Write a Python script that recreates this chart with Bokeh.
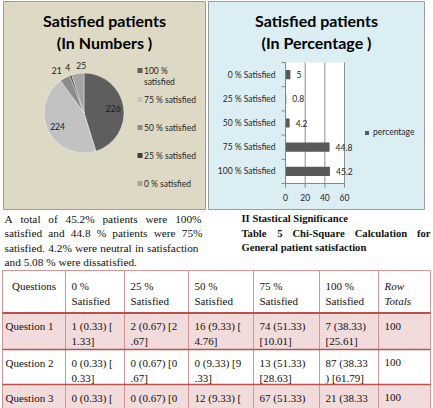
import numpy as np
import pandas as pd
from bokeh.plotting import figure
from bokeh.models import Range1d, ColumnDataSource, Legend, LegendItem
from bokeh.layouts import column
from bokeh.core.properties import value
from bokeh.embed import file_html
from bokeh.resources import INLINE

# ---------------- data ----------------
PIE_TITLE = ["Satisfied patients", "(In Numbers )"]
PIE_LABELS = ["100 %\nsatisfied", "75 % satisfied", "50 % satisfied", "25 % satisfied", "0 % satisfied"]
PIE_COUNTS = [226, 224, 21, 4, 25]

BAR_TITLE = ["Satisfied patients", "(In Percentage )"]
BAR_CATEGORIES = ["100 % Satisfied", "75 % Satisfied", "50 % Satisfied", "25 % Satisfied", "0 % Satisfied"]
BAR_PERCENT = [45.2, 44.8, 4.2, 0.8, 5]
BAR_SERIES = "percentage"
BAR_TICKS = [0, 20, 40, 60]

PARAGRAPH = [
    "A total of 45.2% patients were 100%",
    "satisfied and 44.8 % patients were 75%",
    "satisfied. 4.2% were neutral in satisfaction",
    "and 5.08 % were dissatisfied.",
]
HEADING = [
    "II Stastical Significance",
    "Table 5 Chi-Square Calculation for",
    "General patient satisfaction",
]

TABLE_HEADER = ["Questions", "0 %\nSatisfied", "25 %\nSatisfied", "50 %\nSatisfied",
                "75 %\nSatisfied", "100 %\nSatisfied", "Row\nTotals"]
QUESTIONS = ["Question 1", "Question 2", "Question 3"]
CELLS = [
    ["1 (0.33) [\n1.33]", "2 (0.67) [2\n.67]", "16 (9.33) [\n4.76]", "74 (51.33)\n[10.01]", "7 (38.33)\n[25.61]"],
    ["0 (0.33) [\n0.33]", "0 (0.67) [0\n.67]", "0 (9.33) [9\n.33]", "13 (51.33)\n[28.63]", "87 (38.33\n) [61.79]"],
    ["0 (0.33) [\n0.33]", "0 (0.67) [0\n.67]", "12 (9.33) [\n0.76]", "67 (51.33)\n[4.78]", "21 (38.33\n) [7.84]"],
]
ROW_TOTALS = [100, 100, 100]

# ---------------- styling ----------------
SLICE_COLORS = ["#5e5e5e", "#c2c2c2", "#8b8b8b", "#3e3e3e", "#a4a4a4"]
BEIGE = "#ddd9c4"
BLUE = "#dbeef4"
PANEL_EDGE = "#9c9c9c"
AXIS_GRAY = "#868686"
GRID_GRAY = "#8f8f8f"
BAR_COLOR = "#595959"
PINK = "#f2dbdb"
TABLE_LINE = "#d99594"
TABLE_RULE = "#c0504d"
CHART_FONT = "Lato"
DOC_FONT = "Liberation Serif"
LABEL_COLOR = "#262626"

# ---------------- chart strip (both panels share one canvas) ----------------
W, H = 433, 210
top = figure(width=W, height=H, title=None, toolbar_location=None, output_backend="svg",
             x_range=Range1d(0, W), y_range=Range1d(0, H),
             x_axis_location=None, y_axis_location=None, min_border=0,
             outline_line_color=None, background_fill_color="white", border_fill_color="white")
top.grid.visible = False


def up(page_y):
    """canvas rows are counted from the top; the strip's y axis points up"""
    return H - page_y


# panels
top.quad(left=[3, 208], right=[205, 424], bottom=[up(209)] * 2, top=[up(1)] * 2,
         fill_color=[BEIGE, BLUE], line_color=PANEL_EDGE, line_width=1)

# ---- pie ----
CX, CY, R = 83.5, up(112.5), 40
counts = np.array(PIE_COUNTS, dtype=float)
sweep = counts / counts.sum() * 2 * np.pi
end_cum = np.cumsum(sweep)
start_cum = end_cum - sweep
pie = pd.DataFrame({
    "start": np.pi / 2 - start_cum,
    "end": np.pi / 2 - end_cum,
    "color": SLICE_COLORS,
})
mid = np.pi / 2 - (start_cum + end_cum) / 2
big = counts / counts.sum() > 0.1
lab_r = np.where(big, R * 0.74, R * 1.2)
lx = CX + lab_r * np.cos(mid)
ly = CY + lab_r * np.sin(mid)
# small slices get their labels outside; spread them sideways so they do not collide
if (~big).sum() > 1:
    centre = lx[~big].mean()
    lx[~big] = centre + (lx[~big] - centre) * 1.6
pie["lx"] = lx
pie["ly"] = ly
pie["ltext"] = [str(c) for c in PIE_COUNTS]
psrc = ColumnDataSource(pie)

top.wedge(x=CX, y=CY, radius=R, start_angle="start", end_angle="end", direction="clock",
          fill_color="color", line_color="white", line_width=0.4, source=psrc)
top.text(x="lx", y="ly", text="ltext", source=psrc, text_align="center", text_baseline="middle",
         text_font=value(CHART_FONT), text_font_size="8.5px", text_color="#1a1a1a")

# legend rows of the pie panel (wrapped labels continue below their swatch)
LEG_ROWS = [70, 99, 127, 155, 183]
top.scatter(x=[139.5] * len(LEG_ROWS), y=[up(v) for v in LEG_ROWS], marker="square", size=5,
            fill_color=SLICE_COLORS, line_color=None)
leg_x, leg_y, leg_t = [], [], []
for row_y, lab in zip(LEG_ROWS, PIE_LABELS):
    for k, part in enumerate(lab.split("\n")):
        leg_x.append(143.5)
        leg_y.append(up(row_y + 11 * k))
        leg_t.append(part)
top.text(x=leg_x, y=leg_y, text=leg_t, text_align="left", text_baseline="middle",
         text_font=value(CHART_FONT), text_font_size="8.5px", text_color=LABEL_COLOR)

# ---- panel titles ----
top.text(x=[104, 104, 316, 316], y=[up(20), up(42), up(20), up(42)],
         text=PIE_TITLE + BAR_TITLE, text_align="center", text_baseline="middle",
         text_font=value(CHART_FONT), text_font_size="16px", text_font_style="bold",
         text_color="#000000")

# ---- bars: their own value and band scales inside the right panel ----
PLOT_LEFT, PLOT_BOTTOM = 285, 183          # canvas pixels of the bar plot's origin
PX_PER_PCT = 59 / BAR_TICKS[-1]            # the 0..60 axis spans 59 px
PX_PER_BAND = 24.2
n_cat = len(BAR_CATEGORIES)
top.extra_x_ranges = {"pct": Range1d(-PLOT_LEFT / PX_PER_PCT, (W - PLOT_LEFT) / PX_PER_PCT)}
top.extra_y_ranges = {"band": Range1d(-up(PLOT_BOTTOM) / PX_PER_BAND,
                                      (H - up(PLOT_BOTTOM)) / PX_PER_BAND)}
on_bars = dict(x_range_name="pct", y_range_name="band")

band_mid = [i + 0.5 for i in range(n_cat)]
bar_src = ColumnDataSource({"y": band_mid, "pct": BAR_PERCENT,
                            "lab_x": [v + 6 / PX_PER_PCT for v in BAR_PERCENT],
                            "txt": [f"{v:g}" for v in BAR_PERCENT]})

# plot area, grid, bars
top.quad(left=[BAR_TICKS[0]], right=[BAR_TICKS[-1]], bottom=[0], top=[n_cat],
         fill_color="white", line_color=None, **on_bars)
top.segment(x0=BAR_TICKS[1:], x1=BAR_TICKS[1:], y0=[0] * 3, y1=[n_cat] * 3,
            line_color=GRID_GRAY, line_width=1, **on_bars)
bars = top.hbar(y="y", right="pct", left=0, height=0.38, fill_color=BAR_COLOR, line_color=None,
                source=bar_src, **on_bars)
top.text(x="lab_x", y="y", text="txt", source=bar_src, text_baseline="middle",
         text_font=value(CHART_FONT), text_font_size="8.5px", text_color=LABEL_COLOR, **on_bars)

# category axis (ticks on the band edges)
tick_len_x = 4 / PX_PER_PCT
tick_len_y = 4 / PX_PER_BAND
top.segment(x0=[0], x1=[0], y0=[0], y1=[n_cat], line_color=AXIS_GRAY, line_width=1, **on_bars)
top.segment(x0=[0] * (n_cat + 1), x1=[-tick_len_x] * (n_cat + 1), y0=list(range(n_cat + 1)),
            y1=list(range(n_cat + 1)), line_color=AXIS_GRAY, line_width=1, **on_bars)
top.text(x=[-10 / PX_PER_PCT] * n_cat, y=band_mid, text=BAR_CATEGORIES, text_align="right",
         text_baseline="middle", text_font=value(CHART_FONT), text_font_size="8.5px",
         text_color=LABEL_COLOR, **on_bars)

# value axis
top.segment(x0=[BAR_TICKS[0]], x1=[BAR_TICKS[-1]], y0=[0], y1=[0], line_color=AXIS_GRAY,
            line_width=1, **on_bars)
top.segment(x0=BAR_TICKS, x1=BAR_TICKS, y0=[0] * len(BAR_TICKS), y1=[-tick_len_y] * len(BAR_TICKS),
            line_color=AXIS_GRAY, line_width=1, **on_bars)
top.text(x=BAR_TICKS, y=[-14 / PX_PER_BAND] * len(BAR_TICKS), text=[str(t) for t in BAR_TICKS],
         text_align="center", text_baseline="middle", text_font=value(CHART_FONT),
         text_font_size="8.5px", text_color=LABEL_COLOR, **on_bars)

legend = Legend(items=[LegendItem(label=BAR_SERIES, renderers=[bars])], location=(364, up(137)),
                glyph_width=5, glyph_height=5, label_height=10, label_standoff=4, padding=0, margin=0,
                spacing=0, border_line_color=None, background_fill_alpha=0,
                label_text_font=CHART_FONT, label_text_font_size="8.5px", label_text_color=LABEL_COLOR)
top.add_layout(legend, "center")

# ---------------- text and table ----------------
TIMES = {" ": 250, "%": 833, "(": 333, ")": 333, "-": 333, ".": 250, "[": 333, "]": 333,
         "A": 722, "C": 667, "G": 722, "I": 333, "Q": 722, "S": 556, "T": 611,
         "a": 444, "b": 500, "c": 444, "d": 500, "e": 444, "f": 333, "g": 500, "h": 500,
         "i": 278, "j": 278, "k": 500, "l": 278, "m": 778, "n": 500, "o": 500, "p": 500,
         "q": 500, "r": 333, "s": 389, "t": 278, "u": 500, "v": 500, "w": 722, "x": 500,
         "y": 500, "z": 444}
TIMES_BOLD = {" ": 250, "%": 1000, "-": 333, ".": 250,
              "A": 722, "C": 722, "G": 778, "I": 389, "S": 556, "T": 667,
              "a": 500, "b": 556, "c": 444, "d": 556, "e": 444, "f": 333, "g": 500, "h": 556,
              "i": 278, "l": 278, "m": 833, "n": 556, "o": 500, "p": 556, "q": 556, "r": 444,
              "s": 389, "t": 333, "u": 556, "v": 500, "w": 722}


def word_positions(line, x0, x1, size, bold, justify):
    widths_tab = TIMES_BOLD if bold else TIMES
    words = line.split(" ")
    widths = [sum(widths_tab.get(ch, 500) for ch in w) * size / 1000 for w in words]
    if justify and len(words) > 1:
        gap = (x1 - x0 - sum(widths)) / (len(words) - 1)
    else:
        gap = widths_tab[" "] * size / 1000
    xs, x = [], x0
    for w in widths:
        xs.append(x)
        x += w + gap
    return words, xs


p3 = figure(width=433, height=198, title=None, toolbar_location=None, output_backend="svg",
            x_range=Range1d(0, 433), y_range=Range1d(408, 210),
            x_axis_location=None, y_axis_location=None, min_border=0,
            outline_line_color=None, background_fill_color="white", border_fill_color="white")
p3.grid.visible = False

PARA_Y = [218, 232.5, 247, 261.5]
PARA_RIGHT = [201, 202, 198, 201]
for i, line in enumerate(PARAGRAPH):
    words, xs = word_positions(line, 4, PARA_RIGHT[i], 11.3, False, i < len(PARAGRAPH) - 1)
    p3.text(x=xs, y=[PARA_Y[i]] * len(words), text=words, text_baseline="middle",
            text_font=value(DOC_FONT), text_font_size="11.3px", text_color="#111111")

HEAD_Y = [218, 232.5, 246.5]
for i, line in enumerate(HEADING):
    words, xs = word_positions(line, 241, 430, 10.6, True, i == 1)
    p3.text(x=xs, y=[HEAD_Y[i]] * len(words), text=words, text_baseline="middle",
            text_font=value(DOC_FONT), text_font_size="10.6px", text_font_style="bold",
            text_color="#111111")

COL_EDGES = [2, 65, 124, 188, 253, 319, 378, 430]
ROW_EDGES = [270, 312.5, 349, 384, 422]
ROW_FILLS = ["white", PINK, "white", PINK]

cells = {"left": [], "right": [], "top": [], "bottom": [], "fill": []}
for r in range(len(ROW_EDGES) - 1):
    for c in range(len(COL_EDGES) - 1):
        cells["left"].append(COL_EDGES[c])
        cells["right"].append(COL_EDGES[c + 1])
        cells["top"].append(ROW_EDGES[r])
        cells["bottom"].append(ROW_EDGES[r + 1])
        cells["fill"].append(ROW_FILLS[r])
p3.quad(left="left", right="right", top="top", bottom="bottom", fill_color="fill",
        line_color=TABLE_LINE, line_width=1, source=ColumnDataSource(cells))
p3.segment(x0=[COL_EDGES[0]] * 3, x1=[COL_EDGES[-1]] * 3, y0=ROW_EDGES[1:4], y1=ROW_EDGES[1:4],
           line_color=TABLE_RULE, line_width=[2, 1.4, 1.4])

# every cell line is set on its own alphabetic baseline
LINE_GAP = 15
cell_x, cell_y, cell_t, cell_align, cell_style = [], [], [], [], []
table_rows = [TABLE_HEADER] + [[q] + CELLS[r] + [str(ROW_TOTALS[r])] for r, q in enumerate(QUESTIONS)]
for r, entries in enumerate(table_rows):
    first_base = ROW_EDGES[r] + (15.5 if r == 0 else 13)
    for c, entry in enumerate(entries):
        if c == 0 and r == 0:
            x, align = (COL_EDGES[0] + COL_EDGES[1]) / 2, "center"
        elif c == 0:
            x, align = COL_EDGES[0] + 3, "left"
        else:
            x, align = COL_EDGES[c] + 6, "left"
        style = "italic" if (r == 0 and c == len(entries) - 1) else "normal"
        for k, part in enumerate(entry.split("\n")):
            cell_x.append(x)
            cell_y.append(first_base + LINE_GAP * k)
            cell_t.append(part)
            cell_align.append(align)
            cell_style.append(style)
p3.text(x="x", y="y", text="t", text_align="align", text_font_style="style",
        source=ColumnDataSource({"x": cell_x, "y": cell_y, "t": cell_t, "align": cell_align,
                                 "style": cell_style}),
        text_baseline="alphabetic", text_font=value(DOC_FONT), text_font_size="11px",
        text_color="#111111")

layout = column(top, p3)
open("out.html", "w").write(file_html(layout, INLINE))
